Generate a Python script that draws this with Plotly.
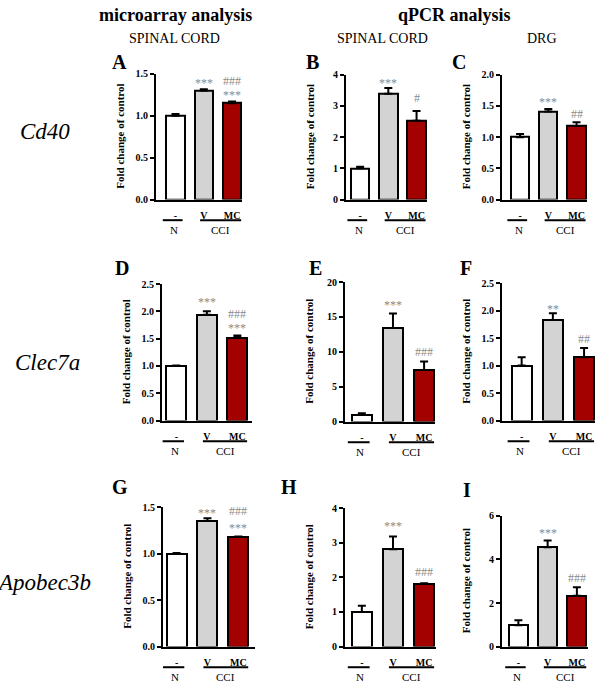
import plotly.graph_objects as go

W, H = 600, 686

# ---------------- data ----------------
groups = ["-", "V", "MC"]
bar_colors = ["#ffffff", "#d3d3d3", "#a30000"]

A_mean = [1.00, 1.30, 1.15]; A_err = [0.02, 0.015, 0.02]
B_mean = [1.00, 3.39, 2.53]; B_err = [0.05, 0.19, 0.31]
C_mean = [1.00, 1.41, 1.18]; C_err = [0.05, 0.04, 0.06]
D_mean = [1.00, 1.94, 1.52]; D_err = [0.01, 0.06, 0.04]
E_mean = [1.0, 13.4, 7.4];   E_err = [0.2, 2.1, 1.2]
F_mean = [1.00, 1.83, 1.15]; F_err = [0.15, 0.12, 0.17]
G_mean = [1.00, 1.35, 1.18]; G_err = [0.005, 0.03, 0.005]
H_mean = [1.00, 2.81, 1.81]; H_err = [0.18, 0.37, 0.02]
I_mean = [0.98, 4.56, 2.34]; I_err = [0.23, 0.31, 0.38]

# significance marks: (bar index, y value, text)
A_sig = [(1, 1.41, "***"), (2, 1.41, "###"), (2, 1.27, "***")]
B_sig = [(1, 3.80, "***"), (2, 3.24, "#")]
C_sig = [(1, 1.60, "***"), (2, 1.37, "##")]
D_sig = [(1, 2.20, "***"), (2, 1.95, "###"), (2, 1.74, "***")]
E_sig = [(1, 17.0, "***"), (2, 10.0, "###")]
F_sig = [(1, 2.07, "**"), (2, 1.48, "##")]
G_sig = [(1, 1.46, "***"), (2, 1.46, "###"), (2, 1.30, "***")]
H_sig = [(1, 3.53, "***"), (2, 2.14, "###")]
I_sig = [(1, 5.30, "***"), (2, 3.17, "###")]

genes = ["Cd40", "Clec7a", "Apobec3b"]

# ---------------- layout of panels (pixel boxes) ----------------
panels = [
    ("A", A_mean, A_err, A_sig, 156, 242, 69, 197, [-0.69, 2.35], 1.5, 0.5, ".1f", (119, 57)),
    ("B", B_mean, B_err, B_sig, 346, 427, 70, 197, [-0.50, 2.37], 4, 1, "d", (313, 57)),
    ("C", C_mean, C_err, C_sig, 502, 587, 70, 197, [-0.64, 2.37], 2.0, 0.5, ".1f", (459, 57)),
    ("D", D_mean, D_err, D_sig, 162, 252, 283, 422, [-0.47, 2.48], 2.5, 0.5, ".1f", (122, 267)),
    ("E", E_mean, E_err, E_sig, 345, 435, 281, 423, [-0.54, 2.35], 20, 5, "d", (315, 267)),
    ("F", F_mean, F_err, F_sig, 502, 595, 282, 422, [-0.63, 2.35], 2.5, 0.5, ".1f", (466, 267)),
    ("G", G_mean, G_err, G_sig, 163, 255, 510, 652, [-0.44, 2.54], 1.5, 0.5, ".1f", (120, 490)),
    ("H", H_mean, H_err, H_sig, 345, 436, 511, 652, [-0.54, 2.38], 4, 1, "d", (289, 490)),
    ("I", I_mean, I_err, I_sig, 502, 588, 519, 652, [-0.56, 2.38], 6, 2, "d", (467, 493)),
]

SERIF = "Liberation Serif, Times New Roman, serif"

fig = go.Figure()
annotations = []
shapes = []


def ann(**kw):
    base = dict(showarrow=False, xanchor="center", yanchor="middle")
    base.update(kw)
    annotations.append(base)


for k, (lab, mean, err, sig, x0, x1, yt, yz, xr, ymax, dt, tf, lpos) in enumerate(panels, start=1):
    xa = "x" if k == 1 else f"x{k}"
    ya = "y" if k == 1 else f"y{k}"
    fig.add_trace(go.Bar(
        x=[0, 1, 2], y=mean, width=0.65,
        marker=dict(color=bar_colors, line=dict(color="black", width=2)),
        error_y=dict(type="data", array=err, arrayminus=[0, 0, 0], symmetric=False,
                     color="black", thickness=2, width=4),
        xaxis=xa, yaxis=ya, showlegend=False, hoverinfo="skip",
    ))
    xkey = "xaxis" if k == 1 else f"xaxis{k}"
    ykey = "yaxis" if k == 1 else f"yaxis{k}"
    fig.update_layout(**{
        xkey: dict(domain=[x0 / W, x1 / W], range=xr, anchor=ya,
                   showline=True, linecolor="black", linewidth=2,
                   tickvals=[0, 1, 2], ticktext=groups, ticks="outside", ticklen=5,
                   tickcolor="rgba(0,0,0,0)", showgrid=False, zeroline=False,
                   tickfont=dict(family=SERIF, size=10, color="black", weight="bold"),
                   fixedrange=True),
        ykey: dict(domain=[1 - yz / H, 1 - yt / H], range=[0, ymax], anchor=xa,
                   showline=True, linecolor="black", linewidth=2,
                   ticks="outside", ticklen=4, tickwidth=2, tickcolor="black",
                   dtick=dt, tick0=0, tickformat=tf, showgrid=False, zeroline=False,
                   tickfont=dict(family=SERIF, size=10, color="black", weight="bold"),
                   fixedrange=True),
    })
    hpx = yz - yt
    # y axis title
    ann(text="<b>Fold change of control</b>", textangle=-90,
        xref=f"{xa} domain", x=0, xshift=-36,
        yref=f"{ya} domain", y=0.5,
        font=dict(family=SERIF, size=11, color="black"))
    # significance
    for (i, yv, txt) in sig:
        ann(text=txt, xref=xa, yref=ya, x=i, y=yv,
            yshift=-2 if "*" in txt else 0,
            font=dict(family=SERIF, size=12, color="#8a8a8a"))
    # group underlines and labels
    yl = -21 / hpx
    shapes.append(dict(type="line", xref=xa, yref=f"{ya} domain", x0=-0.45, x1=0.25,
                       y0=yl, y1=yl, line=dict(color="black", width=2)))
    shapes.append(dict(type="line", xref=xa, yref=f"{ya} domain", x0=0.87, x1=2.32,
                       y0=yl, y1=yl, line=dict(color="black", width=2)))
    yg = -31 / hpx
    ann(text="N", xref=xa, yref=f"{ya} domain", x=-0.05, y=yg,
        font=dict(family=SERIF, size=11, color="black"))
    ann(text="CCI", xref=xa, yref=f"{ya} domain", x=1.6, y=yg,
        font=dict(family=SERIF, size=11, color="black"))
    # panel letter
    ann(text=f"<b>{lab}</b>", xref="paper", yref="paper",
        x=lpos[0] / W, y=1 - lpos[1] / H,
        font=dict(family=SERIF, size=20, color="black"))

# headers
headers = [
    ("<b>microarray analysis</b>", 175, 9, 18),
    ("<b>qPCR analysis</b>", 454, 9, 18),
    ("SPINAL CORD", 174, 33, 14),
    ("SPINAL CORD", 382, 33, 14),
    ("DRG", 542, 33, 14),
]
for txt, xp, yp, fs in headers:
    ann(text=txt, xref="paper", yref="paper", x=xp / W, y=1 - yp / H,
        font=dict(family=SERIF, size=fs, color="black"))

gene_pos = [(45, 128), (47, 363), (44, 587)]
for g, (xp, yp) in zip(genes, gene_pos):
    ann(text=f"<i>{g}</i>", xref="paper", yref="paper", x=xp / W, y=1 - yp / H,
        font=dict(family=SERIF, size=23, color="black"))

fig.update_layout(width=W, height=H, margin=dict(l=0, r=0, t=0, b=0),
                  paper_bgcolor="white", plot_bgcolor="white",
                  annotations=annotations, shapes=shapes, bargap=0)

fig.write_html("out.html", config={"displayModeBar": False},
               post_script="document.body.style.margin='0';document.body.style.overflow='hidden';")
